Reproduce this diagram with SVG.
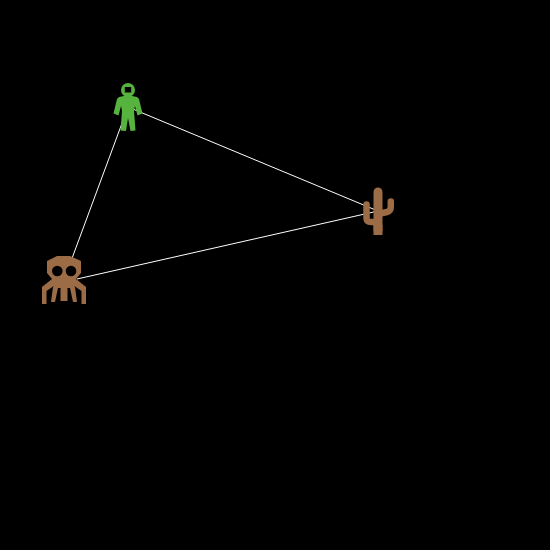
<svg xmlns="http://www.w3.org/2000/svg" width="550" height="550" viewBox="0 0 550 550">
<style>
.edge{stroke:#fff;stroke-width:1;fill:none}
.brown{fill:#9c6c46}
.green{fill:#56b33e}
.limb{fill:none;stroke:#9c6c46;stroke-linejoin:round}
</style>
<rect width="550" height="550" fill="#000"/>
<g id="connectors">
<line class="edge" x1="128" y1="107" x2="378" y2="211"/>
<line class="edge" x1="128" y1="107" x2="71.400" y2="260"/>
<line class="edge" x1="77" y1="279" x2="378" y2="211"/>
</g>
<g id="person">
<path class="green" fill-rule="evenodd" d="M121 90a7 7 0 1 1 14 0a7 7 0 1 1-14 0zM124.800 87v5.500h6.400v-5.500z"/>
<path class="green" d="M124 96H132L137 97L139 99L142.500 113.500L137.500 115.500L135 106L134 111L135.500 130.500L130.500 131L128 118L126 131L120.500 130.500L122 111L121 106L118.500 115.500L113.500 113.500L117 99L119 97Z"/>
</g>
<g id="cactus">
<path class="limb" stroke-width="9" stroke-linecap="round" d="M378 192V230"/>
<rect class="brown" x="373.500" y="225" width="9" height="10"/>
<path class="limb" stroke-width="6.500" stroke-linecap="round" d="M366.500 204.500V218Q366.500 222 371 222H378"/>
<path class="limb" stroke-width="6.500" stroke-linecap="round" d="M390.800 201.500V207Q390.800 211 387 212L378 214"/>
</g>
<g id="skull">
<path class="brown" fill-rule="evenodd" d="M57 256H70L81 261V273L76 279L86 287V304H81.500V291L73.500 285.500L75 287L77 302H73L70 288H67.500V301H60.500V288H58L55 302H51L53 287L54.500 285.500L46.500 291V304H42V287L52 279L47 273V261ZM52 271a5.300 5.300 0 1 1 10.600 0a5.300 5.300 0 1 1-10.600 0ZM65.700 271a5.300 5.300 0 1 1 10.600 0a5.300 5.300 0 1 1-10.600 0Z"/>
</g>
</svg>
